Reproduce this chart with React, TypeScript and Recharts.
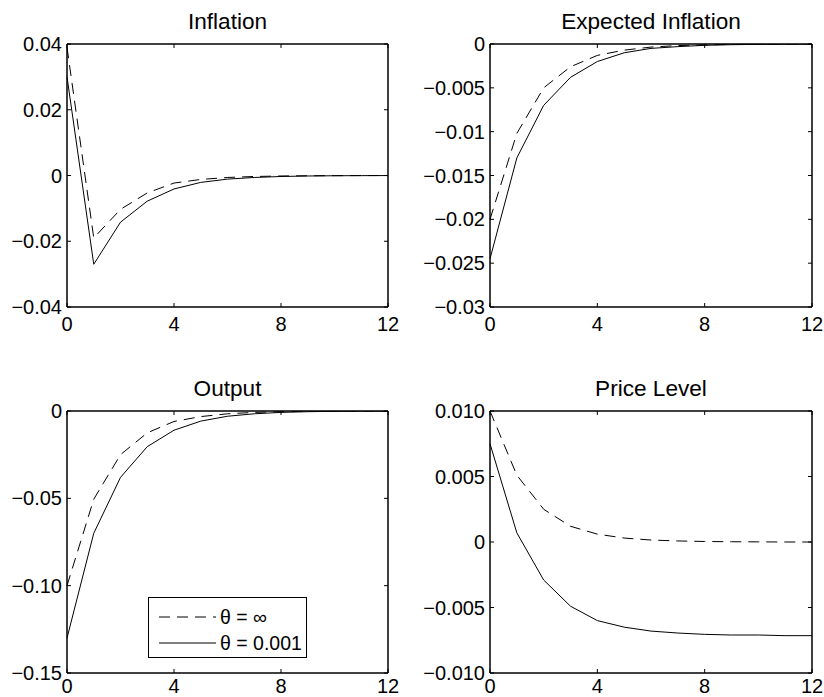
import React from 'react';
import { LineChart, Line, XAxis, YAxis, Legend } from 'recharts';

const periods = [0, 1, 2, 3, 4, 5, 6, 7, 8, 9, 10, 11, 12];
const xTicks = [0, 4, 8, 12];
const xTickLabels = ['0', '4', '8', '12'];

const seriesNames = ['θ = ∞', 'θ = 0.001'];

const inflationInf = [0.039, -0.019, -0.0103, -0.0053, -0.0023, -0.0012, -0.0006, -0.0003, -0.00015, -0.00008, -0.00004, -0.00002, -0.00001];
const inflationLow = [0.030, -0.027, -0.0142, -0.0078, -0.0041, -0.0021, -0.0011, -0.0006, -0.0003, -0.00015, -0.00008, -0.00004, -0.00002];

const expInfInf = [-0.020, -0.0102, -0.0050, -0.0026, -0.0013, -0.0007, -0.00035, -0.00018, -0.0001, -0.00005, -0.00002, -0.00001, 0];
const expInfLow = [-0.0245, -0.013, -0.0070, -0.0038, -0.0020, -0.0010, -0.0005, -0.0003, -0.00015, -0.00008, -0.00004, -0.00002, -0.00001];

const outputInf = [-0.100, -0.0505, -0.025, -0.0125, -0.006, -0.0032, -0.0016, -0.0008, -0.0004, -0.0002, -0.0001, -0.00005, -0.00002];
const outputLow = [-0.130, -0.070, -0.038, -0.0204, -0.011, -0.0058, -0.003, -0.0016, -0.0008, -0.0004, -0.0002, -0.0001, -0.00005];

const priceInf = [0.0100, 0.0051, 0.0025, 0.0012, 0.0006, 0.0003, 0.00015, 0.00008, 0.00004, 0.00002, 0.00001, 0, 0];
const priceLow = [0.0075, 0.0007, -0.0029, -0.0049, -0.0060, -0.0065, -0.0068, -0.00695, -0.00705, -0.0071, -0.0071, -0.00715, -0.00715];

const inflationTicks = [-0.04, -0.02, 0, 0.02, 0.04];
const inflationTickLabels = ['−0.04', '−0.02', '0', '0.02', '0.04'];
const expInfTicks = [-0.03, -0.025, -0.02, -0.015, -0.01, -0.005, 0];
const expInfTickLabels = ['−0.03', '−0.025', '−0.02', '−0.015', '−0.01', '−0.005', '0'];
const outputTicks = [-0.15, -0.1, -0.05, 0];
const outputTickLabels = ['−0.15', '−0.10', '−0.05', '0'];
const priceTicks = [-0.01, -0.005, 0, 0.005, 0.01];
const priceTickLabels = ['−0.010', '−0.005', '0', '0.005', '0.010'];

const FONT = '"Liberation Sans", Arial, Helvetica, sans-serif';
const DASH = '11 7';

function buildData(a: number[], b: number[]) {
  return periods.map((t, i) => ({ t, a: a[i], b: b[i] }));
}

function LegendBox() {
  const rows = [
    { name: seriesNames[0], dash: DASH },
    { name: seriesNames[1], dash: undefined as string | undefined },
  ];
  return (
    <div
      style={{
        position: 'relative',
        width: 159,
        height: 61,
        boxSizing: 'border-box',
        border: '1px solid #000',
        background: '#fff',
        fontFamily: FONT,
        fontSize: 19.5,
        color: '#000',
      }}
    >
      {rows.map((r, i) => (
        <div
          key={i}
          style={{
            position: 'absolute',
            left: 10,
            top: 7 + i * 25.6,
            height: 24,
            display: 'flex',
            alignItems: 'center',
            whiteSpace: 'nowrap',
          }}
        >
          <svg width={58} height={24} style={{ display: 'block' }}>
            <line x1={0} y1={12} x2={57} y2={12} stroke="#000" strokeWidth={1} strokeDasharray={r.dash} />
          </svg>
          <span style={{ marginLeft: 3, lineHeight: '24px' }}>{r.name}</span>
        </div>
      ))}
    </div>
  );
}

type PanelProps = {
  title: string;
  a: number[];
  b: number[];
  yTicks: number[];
  yLabels: string[];
  left: number;
  top: number;
  height: number;
  margin: { top: number; right: number; bottom: number; left: number };
  xTickMargin: number;
  legend?: boolean;
};

function Panel(p: PanelProps) {
  const data = buildData(p.a, p.b);
  const yDomain = [p.yTicks[0], p.yTicks[p.yTicks.length - 1]];
  const tickStyle = { fill: '#000', fontSize: 20, fontFamily: FONT };
  const axisLine = { stroke: '#000', strokeWidth: 1.5 };
  const tickLine = { stroke: '#000', strokeWidth: 1 };
  return (
    <div style={{ position: 'absolute', left: p.left, top: p.top }}>
      <LineChart width={412} height={p.height} data={data} margin={p.margin}>
        <XAxis
          dataKey="t"
          type="number"
          domain={[0, 12]}
          ticks={xTicks}
          interval={0}
          height={20}
          tickSize={-4}
          tickMargin={p.xTickMargin}
          axisLine={axisLine}
          tickLine={tickLine}
          tick={tickStyle}
          tickFormatter={(v: number) => xTickLabels[xTicks.indexOf(v)] ?? ''}
        />
        <XAxis
          xAxisId="top"
          orientation="top"
          dataKey="t"
          type="number"
          domain={[0, 12]}
          ticks={xTicks}
          interval={0}
          height={1}
          tickSize={-4}
          axisLine={axisLine}
          tickLine={tickLine}
          tick={tickStyle}
          tickFormatter={() => ''}
          label={{ value: p.title, position: 'top', offset: 14, fontSize: 22.6, fill: '#000', fontFamily: FONT }}
        />
        <YAxis
          type="number"
          domain={yDomain}
          ticks={p.yTicks}
          interval={0}
          width={60}
          tickSize={-4}
          tickMargin={9}
          axisLine={axisLine}
          tickLine={tickLine}
          tick={tickStyle}
          allowDataOverflow
          tickFormatter={(v: number) => p.yLabels[p.yTicks.indexOf(v)] ?? ''}
        />
        <YAxis
          yAxisId="right"
          orientation="right"
          type="number"
          domain={yDomain}
          ticks={p.yTicks}
          interval={0}
          width={1}
          tickSize={-4}
          axisLine={axisLine}
          tickLine={tickLine}
          tick={tickStyle}
          allowDataOverflow
          tickFormatter={() => ''}
        />
        <Line
          dataKey="a"
          name={seriesNames[0]}
          type="linear"
          stroke="#000"
          strokeWidth={1}
          strokeDasharray={DASH}
          dot={false}
          activeDot={false}
          isAnimationActive={false}
        />
        <Line
          dataKey="b"
          name={seriesNames[1]}
          type="linear"
          stroke="#000"
          strokeWidth={1}
          dot={false}
          activeDot={false}
          isAnimationActive={false}
        />
        {p.legend ? (
          <Legend
            layout="vertical"
            align="center"
            verticalAlign="middle"
            content={() => <LegendBox />}
            wrapperStyle={{ left: 148, top: 257, right: 'auto', bottom: 'auto', width: 159, height: 61 }}
          />
        ) : null}
      </LineChart>
    </div>
  );
}

export default function App() {
  return (
    <div style={{ position: 'absolute', left: 0, top: 0, width: 824, height: 697, background: '#fff', overflow: 'hidden' }}>
      <Panel
        title="Inflation"
        a={inflationInf}
        b={inflationLow}
        yTicks={inflationTicks}
        yLabels={inflationTickLabels}
        left={0}
        top={0}
        height={340}
        margin={{ top: 43, right: 23, bottom: 13, left: 7 }}
        xTickMargin={14}
      />
      <Panel
        title="Expected Inflation"
        a={expInfInf}
        b={expInfLow}
        yTicks={expInfTicks}
        yLabels={expInfTickLabels}
        left={412}
        top={0}
        height={340}
        margin={{ top: 43, right: 11, bottom: 13, left: 18 }}
        xTickMargin={14}
      />
      <Panel
        title="Output"
        a={outputInf}
        b={outputLow}
        yTicks={outputTicks}
        yLabels={outputTickLabels}
        left={0}
        top={340}
        height={357}
        margin={{ top: 70, right: 23, bottom: 4, left: 7 }}
        xTickMargin={9.5}
        legend
      />
      <Panel
        title="Price Level"
        a={priceInf}
        b={priceLow}
        yTicks={priceTicks}
        yLabels={priceTickLabels}
        left={412}
        top={340}
        height={357}
        margin={{ top: 70, right: 11, bottom: 4, left: 18 }}
        xTickMargin={9.5}
      />
    </div>
  );
}
